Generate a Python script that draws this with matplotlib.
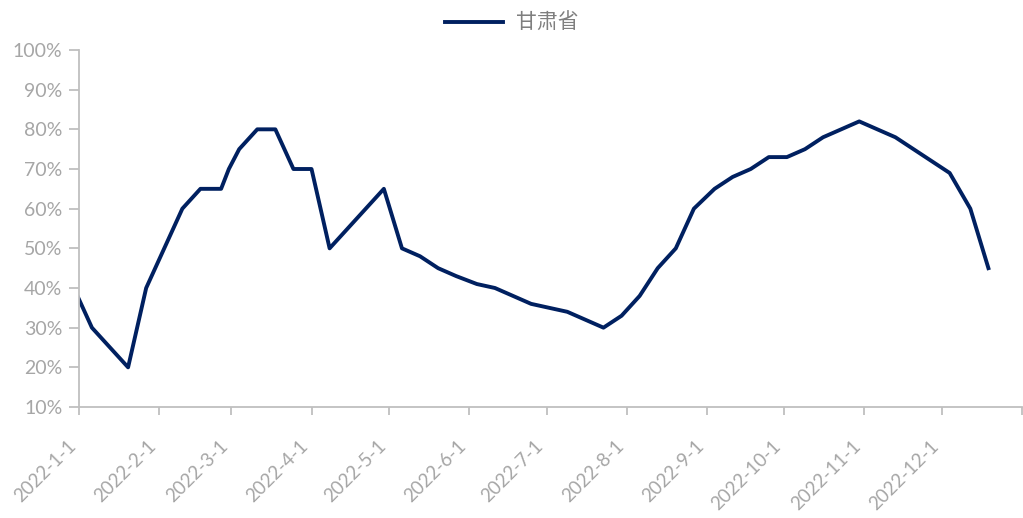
import matplotlib
matplotlib.use('Agg')
import matplotlib.pyplot as plt
import numpy as np
import pandas as pd

plt.rcParams['font.family'] = ['Lato', 'Noto Sans CJK SC', 'DejaVu Sans']

series_name = '甘肃省'

dates = ['2021-12-30', '2022-01-06', '2022-01-13', '2022-01-20', '2022-01-27',
         '2022-02-03', '2022-02-10', '2022-02-17', '2022-02-25', '2022-02-28',
         '2022-03-04', '2022-03-11', '2022-03-18', '2022-03-25', '2022-04-01',
         '2022-04-08', '2022-04-15', '2022-04-22', '2022-04-29', '2022-05-06',
         '2022-05-13', '2022-05-20', '2022-05-27', '2022-06-04', '2022-06-11',
         '2022-06-18', '2022-06-25', '2022-07-02', '2022-07-09', '2022-07-16',
         '2022-07-23', '2022-07-30', '2022-08-06', '2022-08-13', '2022-08-20',
         '2022-08-27', '2022-09-04', '2022-09-11', '2022-09-18', '2022-09-25',
         '2022-10-02', '2022-10-09', '2022-10-16', '2022-10-23', '2022-10-30',
         '2022-11-06', '2022-11-13', '2022-11-20', '2022-11-27', '2022-12-04',
         '2022-12-12', '2022-12-19']

values = [40, 30, 25, 20, 40,
          50, 60, 65, 65, 70,
          75, 80, 80, 70, 70,
          50, 55, 60, 65, 50,
          48, 45, 43, 41, 40,
          38, 36, 35, 34, 32,
          30, 33, 38, 45, 50,
          60, 65, 68, 70, 73,
          73, 75, 78, 80, 82,
          80, 78, 75, 72, 69,
          60, 45]

tick_dates = ['2022-01-01', '2022-02-01', '2022-03-01', '2022-04-01', '2022-05-01',
              '2022-06-01', '2022-07-01', '2022-08-01', '2022-09-01', '2022-10-01',
              '2022-11-01', '2022-12-01', '2023-01-01']
tick_labels = ['2022-1-1', '2022-2-1', '2022-3-1', '2022-4-1', '2022-5-1', '2022-6-1',
               '2022-7-1', '2022-8-1', '2022-9-1', '2022-10-1', '2022-11-1', '2022-12-1', '']

y_ticks = [10, 20, 30, 40, 50, 60, 70, 80, 90, 100]

x = pd.to_datetime(dates)
gray = '#BFBFBF'
label_gray = '#A6A6A6'

fig = plt.figure(figsize=(10.23, 5.18), dpi=100)
ax = fig.add_axes([79 / 1023, 1 - 407 / 518, 943 / 1023, 357 / 518])

ax.plot(x, values, color='#002060', linewidth=2.8, label=series_name)

ax.set_xlim(pd.Timestamp('2022-01-01'), pd.Timestamp('2023-01-01'))
ax.set_ylim(10, 100)
ax.set_yticks(y_ticks)
ax.set_yticklabels(['%d%%' % v for v in y_ticks])
ax.set_xticks(pd.to_datetime(tick_dates))
ax.set_xticklabels(tick_labels, rotation=45, ha='right', va='top')

for s in ['top', 'right']:
    ax.spines[s].set_visible(False)
for s in ['left', 'bottom']:
    ax.spines[s].set_color(gray)
    ax.spines[s].set_linewidth(1.3)

ax.tick_params(axis='y', colors=gray, labelcolor=label_gray, labelsize=14,
               length=7, width=1.3, pad=5)
ax.tick_params(axis='x', colors=gray, labelcolor=label_gray, labelsize=13.5,
               length=6, width=1.3, pad=16)

fig.legend(loc='center', bbox_to_anchor=(0.5, 0.955), frameon=False, fontsize=15,
           handlelength=2.8, handletextpad=0.6, labelcolor='#7F7F7F')

fig.savefig('out.png', dpi=100)
